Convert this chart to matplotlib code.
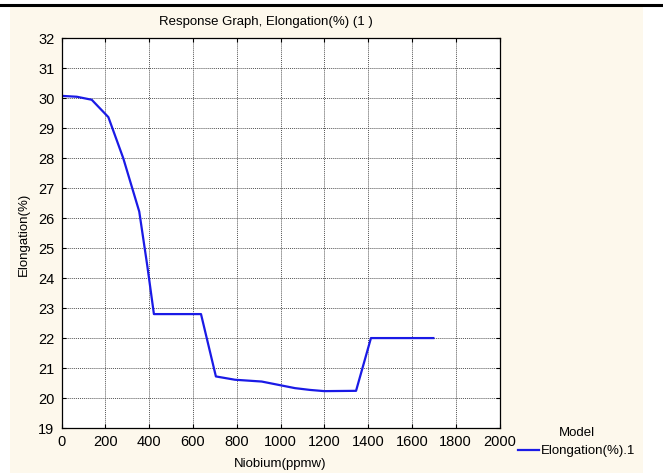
import matplotlib
matplotlib.use("Agg")
import matplotlib.pyplot as plt
from matplotlib.patches import Rectangle
from matplotlib.lines import Line2D

plt.rcParams['font.family'] = ['Liberation Sans', 'DejaVu Sans']

# data
niobium = [0, 70, 138, 214, 282, 355, 392, 422, 637, 705, 792, 914, 1066, 1135, 1200, 1345, 1413, 1698]
elongation = [30.08, 30.05, 29.95, 29.37, 28.0, 26.22, 24.4, 22.8, 22.8, 20.72, 20.61, 20.55, 20.33, 20.27, 20.23, 20.24, 22.0, 22.0]

xticks = list(range(0, 2001, 200))
yticks = list(range(19, 33))

W, H = 663, 475
fig = plt.figure(figsize=(W / 100, H / 100), dpi=100)
fig.patch.set_facecolor('white')

# cream panel and the black rule along the top
fig.add_artist(Rectangle((10 / W, 2 / H), 633 / W, 466 / H, transform=fig.transFigure,
                         facecolor='#fdf8ec', edgecolor='none', zorder=-10))
fig.add_artist(Line2D([0, 1], [1 - 5 / H, 1 - 5 / H], transform=fig.transFigure,
                      color='black', linewidth=2.2))

ax = fig.add_axes([61.5 / W, 1 - 428 / H, 438 / W, (428 - 38.3) / H])
ax.set_facecolor('white')

ax.plot(niobium, elongation, color='#1a1ae6', linewidth=1.6, label='Elongation(%).1')

ax.set_xlim(0, 2000)
ax.set_ylim(19, 32)
ax.set_xticks(xticks)
ax.set_yticks(yticks)
ax.tick_params(direction='in', length=3, width=0.8, top=True, right=True,
               labelsize=10.5, pad=5, colors='black')
ax.grid(True, linestyle=(0, (1, 1)), color='#555555', linewidth=0.7)
for s in ax.spines.values():
    s.set_linewidth(0.9)

fig.text(266 / W, 1 - 22 / H, 'Response Graph, Elongation(%) (1 )', fontsize=9.5,
         ha='center', va='center')
fig.text(280 / W, 1 - 464 / H, 'Niobium(ppmw)', fontsize=9.5, ha='center', va='center')
fig.text(24 / W, 1 - 234 / H, 'Elongation(%)', fontsize=9.5, ha='center', va='center',
         rotation=90)

leg = ax.legend(title='Model', loc='upper left', bbox_to_anchor=(518 / W, 1 - 427 / H),
                bbox_transform=fig.transFigure, frameon=False, fontsize=9.5,
                title_fontsize=9.5, handlelength=1.6, handletextpad=0.15,
                borderpad=0, borderaxespad=0, labelspacing=0.45)

fig.savefig('out.png', dpi=100, facecolor=fig.get_facecolor())
